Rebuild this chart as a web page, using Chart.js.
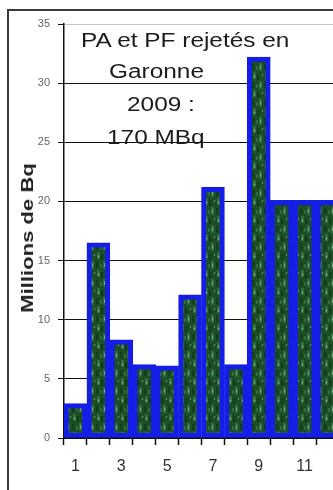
<!DOCTYPE html>
<html>
<head>
<meta charset="utf-8">
<script src="https://cdn.jsdelivr.net/npm/chart.js@4/dist/chart.umd.min.js"></script>
<style>
  html, body { margin: 0; padding: 0; background: #fff; overflow: hidden; }
  #wrap { position: relative; width: 333px; height: 490px; overflow: hidden; }
  #chart-box { position: absolute; left: 0; top: 0; width: 345px; height: 490px; }
  #frame { position: absolute; left: 7px; top: 9px; width: 400px; height: 600px;
    border-left: 2px solid #3a3a3a; border-top: 2px solid #3a3a3a; }
  .note { position: absolute; font: 20px "Liberation Sans", Arial, sans-serif; color: #1c1c1c;
    line-height: 20px; white-space: nowrap; transform: scaleX(1.22); transform-origin: left top; }
  #y-title { position: absolute; left: 28px; top: 238px; white-space: nowrap;
    font: bold 16px "Liberation Sans", Arial, sans-serif; color: #222;
    transform: translate(-50%, -50%) rotate(-90deg) scaleX(1.38); }
</style>
</head>
<body>
<div id="wrap">
  <div id="frame"></div>
  <div id="chart-box"><canvas id="chart"></canvas></div>
  <div id="y-title">Millions de Bq</div>
  <div class="note" style="left:81px;top:30px">PA et PF rejetés en</div>
  <div class="note" style="left:109px;top:61px">Garonne</div>
  <div class="note" style="left:127px;top:94px">2009 :</div>
  <div class="note" style="left:107px;top:127px">170 MBq</div>
</div>
<script>
const months = ['1', '2', '3', '4', '5', '6', '7', '8', '9', '10', '11', '12'];
const releases = [2.9, 16.5, 8.3, 6.2, 6.1, 12.1, 21.2, 6.2, 32.2, 20.1, 20.1, 20.1];
const yTicks = [0, 5, 10, 15, 20, 25, 30, 35];

// mottled green fill used inside the blue bar outline
function makeFill(ctx) {
  const c = document.createElement('canvas');
  c.width = 12;
  c.height = 18;
  const p = c.getContext('2d');
  p.fillStyle = '#1c4d26';
  p.fillRect(0, 0, 12, 18);
  p.fillStyle = '#2f6c3c';
  p.fillRect(1, 0, 3, 7);
  p.fillRect(7, 9, 3, 8);
  p.fillRect(4, 12, 2, 4);
  p.fillStyle = '#5f9a6b';
  p.fillRect(2, 3, 1, 3);
  p.fillRect(8, 11, 1, 4);
  p.fillRect(10, 2, 1, 2);
  p.fillStyle = '#9cc3a0';
  p.fillRect(2, 4, 1, 1);
  p.fillRect(8, 13, 1, 1);
  p.fillStyle = '#123d1b';
  p.fillRect(5, 2, 2, 6);
  p.fillRect(0, 10, 2, 6);
  return ctx.createPattern(c, 'repeat');
}

const canvas = document.getElementById('chart');
const fill = makeFill(canvas.getContext('2d'));

new Chart(canvas, {
  type: 'bar',
  data: {
    labels: months,
    datasets: [{
      data: releases,
      backgroundColor: fill,
      borderColor: '#141ee6',
      borderWidth: 5,
      borderSkipped: false,
      barPercentage: 1,
      categoryPercentage: 1
    }]
  },
  options: {
    responsive: true,
    maintainAspectRatio: false,
    animation: false,
    layout: { padding: { top: 24, right: 6, left: 0, bottom: 0 } },
    plugins: { legend: { display: false }, tooltip: { enabled: false } },
    scales: {
      x: {
        afterFit(scale) { scale.height = 52; },
        grid: {
          offset: true,
          drawOnChartArea: false,
          color: '#111',
          tickLength: 7,
          tickWidth: 1.5
        },
        border: { color: '#111', width: 2 },
        ticks: {
          autoSkip: false,
          maxRotation: 0,
          padding: 12,
          color: '#333',
          font: { family: 'Liberation Sans', size: 16 },
          callback(value, index) { return index % 2 === 0 ? months[index] : ''; }
        }
      },
      y: {
        min: 0,
        max: 35,
        afterFit(scale) { scale.width = 64; },
        afterBuildTicks(scale) { scale.ticks = yTicks.map((v) => ({ value: v })); },
        grid: {
          color(ctx) { return ctx.tick && ctx.tick.value === 35 ? '#c8c8c8' : '#111'; },
          lineWidth: 1,
          tickColor: '#111',
          tickLength: 6
        },
        border: { color: '#111', width: 1.5 },
        ticks: {
          padding: 8,
          color: '#666',
          font: { family: 'Liberation Sans', size: 11 }
        }
      }
    }
  }
});
</script>
</body>
</html>
